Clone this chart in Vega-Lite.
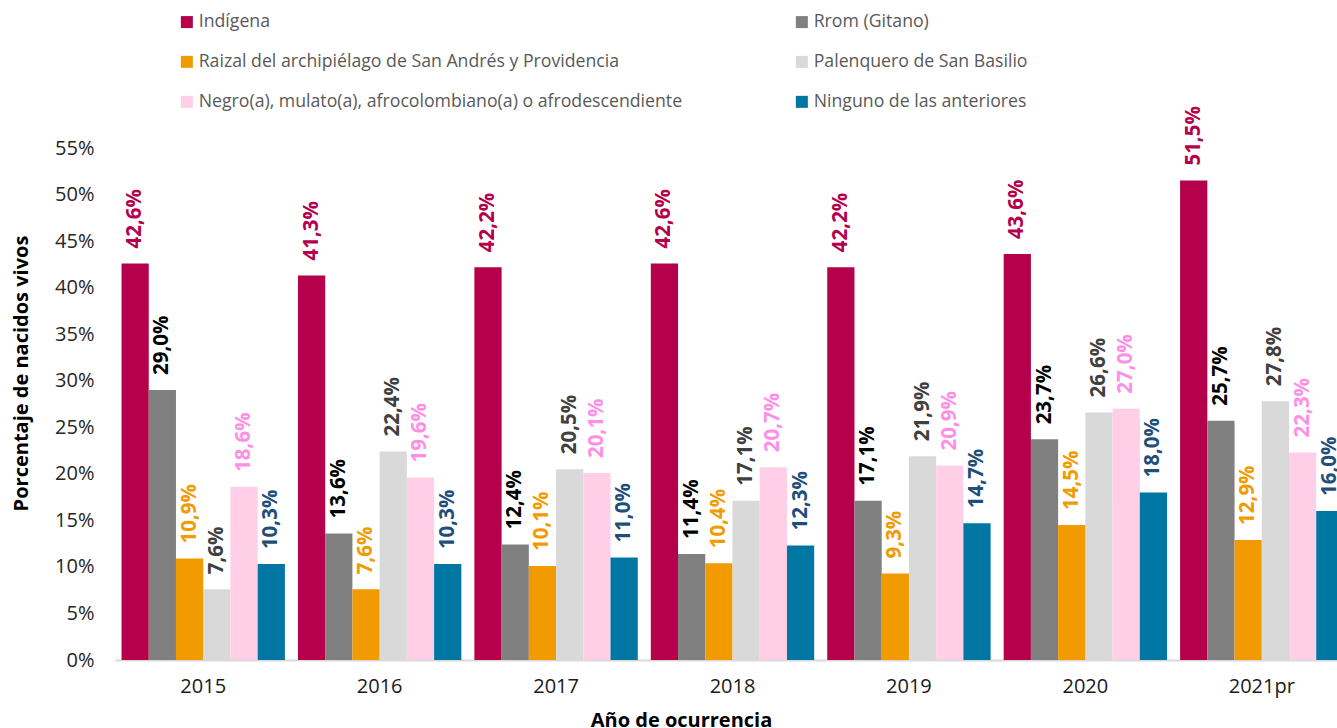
{
  "$schema": "https://vega.github.io/schema/vega-lite/v6.json",
  "autosize": {"type": "none"},
  "padding": {"left": 115, "top": 148, "right": 0, "bottom": 68},
  "width": 1222,
  "height": 512,
  "background": "white",
  "config": {
    "view": {"stroke": null},
    "font": "Open Sans",
    "locale": {"number": {"decimal": ",", "thousands": ".", "grouping": [3], "currency": ["$", ""]}}
  },
  "data": {
    "values": [
      {"anio": "2015", "grupo": "Indígena", "valor": 0.426},
      {"anio": "2015", "grupo": "Rrom (Gitano)", "valor": 0.290},
      {"anio": "2015", "grupo": "Raizal del archipiélago de San Andrés y Providencia", "valor": 0.109},
      {"anio": "2015", "grupo": "Palenquero de San Basilio", "valor": 0.076},
      {"anio": "2015", "grupo": "Negro(a), mulato(a), afrocolombiano(a) o afrodescendiente", "valor": 0.186},
      {"anio": "2015", "grupo": "Ninguno de las anteriores", "valor": 0.103},
      {"anio": "2016", "grupo": "Indígena", "valor": 0.413},
      {"anio": "2016", "grupo": "Rrom (Gitano)", "valor": 0.136},
      {"anio": "2016", "grupo": "Raizal del archipiélago de San Andrés y Providencia", "valor": 0.076},
      {"anio": "2016", "grupo": "Palenquero de San Basilio", "valor": 0.224},
      {"anio": "2016", "grupo": "Negro(a), mulato(a), afrocolombiano(a) o afrodescendiente", "valor": 0.196},
      {"anio": "2016", "grupo": "Ninguno de las anteriores", "valor": 0.103},
      {"anio": "2017", "grupo": "Indígena", "valor": 0.422},
      {"anio": "2017", "grupo": "Rrom (Gitano)", "valor": 0.124},
      {"anio": "2017", "grupo": "Raizal del archipiélago de San Andrés y Providencia", "valor": 0.101},
      {"anio": "2017", "grupo": "Palenquero de San Basilio", "valor": 0.205},
      {"anio": "2017", "grupo": "Negro(a), mulato(a), afrocolombiano(a) o afrodescendiente", "valor": 0.201},
      {"anio": "2017", "grupo": "Ninguno de las anteriores", "valor": 0.110},
      {"anio": "2018", "grupo": "Indígena", "valor": 0.426},
      {"anio": "2018", "grupo": "Rrom (Gitano)", "valor": 0.114},
      {"anio": "2018", "grupo": "Raizal del archipiélago de San Andrés y Providencia", "valor": 0.104},
      {"anio": "2018", "grupo": "Palenquero de San Basilio", "valor": 0.171},
      {"anio": "2018", "grupo": "Negro(a), mulato(a), afrocolombiano(a) o afrodescendiente", "valor": 0.207},
      {"anio": "2018", "grupo": "Ninguno de las anteriores", "valor": 0.123},
      {"anio": "2019", "grupo": "Indígena", "valor": 0.422},
      {"anio": "2019", "grupo": "Rrom (Gitano)", "valor": 0.171},
      {"anio": "2019", "grupo": "Raizal del archipiélago de San Andrés y Providencia", "valor": 0.093},
      {"anio": "2019", "grupo": "Palenquero de San Basilio", "valor": 0.219},
      {"anio": "2019", "grupo": "Negro(a), mulato(a), afrocolombiano(a) o afrodescendiente", "valor": 0.209},
      {"anio": "2019", "grupo": "Ninguno de las anteriores", "valor": 0.147},
      {"anio": "2020", "grupo": "Indígena", "valor": 0.436},
      {"anio": "2020", "grupo": "Rrom (Gitano)", "valor": 0.237},
      {"anio": "2020", "grupo": "Raizal del archipiélago de San Andrés y Providencia", "valor": 0.145},
      {"anio": "2020", "grupo": "Palenquero de San Basilio", "valor": 0.266},
      {"anio": "2020", "grupo": "Negro(a), mulato(a), afrocolombiano(a) o afrodescendiente", "valor": 0.270},
      {"anio": "2020", "grupo": "Ninguno de las anteriores", "valor": 0.180},
      {"anio": "2021pr", "grupo": "Indígena", "valor": 0.515},
      {"anio": "2021pr", "grupo": "Rrom (Gitano)", "valor": 0.257},
      {"anio": "2021pr", "grupo": "Raizal del archipiélago de San Andrés y Providencia", "valor": 0.129},
      {"anio": "2021pr", "grupo": "Palenquero de San Basilio", "valor": 0.278},
      {"anio": "2021pr", "grupo": "Negro(a), mulato(a), afrocolombiano(a) o afrodescendiente", "valor": 0.223},
      {"anio": "2021pr", "grupo": "Ninguno de las anteriores", "valor": 0.160}
    ]
  },
  "encoding": {
    "x": {
      "field": "anio", "type": "nominal", "sort": null,
      "scale": {"range": [0, 1235], "paddingInner": 0.074, "paddingOuter": 0.037},
      "axis": {
        "title": "Año de ocurrencia", "titleFontSize": 20, "titleFontWeight": "bold", "titleColor": "#000000",
        "titleX": 566, "titleY": 70, "titleBaseline": "bottom",
        "labelAngle": 0, "labelFontSize": 20, "labelColor": "#1a1a1a", "labelPadding": 16,
        "ticks": false, "domainColor": "#d9d9d9", "domainWidth": 2
      }
    },
    "xOffset": {
      "field": "grupo", "type": "nominal", "sort": null,
      "scale": {"paddingInner": 0, "paddingOuter": 0}
    },
    "y": {
      "field": "valor", "type": "quantitative",
      "scale": {"domain": [0, 0.55], "nice": false},
      "axis": {
        "title": "Porcentaje de nacidos vivos", "titleFontSize": 20, "titleFontWeight": "bold", "titleColor": "#000000",
        "titleX": -104, "titleY": 225, "titleBaseline": "top", "titleAlign": "center", "titleAngle": 270,
        "format": ".0%", "values": [0, 0.05, 0.1, 0.15, 0.2, 0.25, 0.3, 0.35, 0.4, 0.45, 0.5, 0.55],
        "labelFontSize": 20, "labelColor": "#262626", "labelPadding": 21,
        "ticks": false, "domain": false, "grid": false
      }
    }
  },
  "layer": [
    {
      "mark": {"type": "bar"},
      "encoding": {
        "color": {
          "field": "grupo", "type": "nominal", "sort": null,
          "scale": {
            "domain": ["Indígena", "Rrom (Gitano)", "Raizal del archipiélago de San Andrés y Providencia", "Palenquero de San Basilio", "Negro(a), mulato(a), afrocolombiano(a) o afrodescendiente", "Ninguno de las anteriores"],
            "range": ["#b5004b", "#808080", "#f29b00", "#d9d9d9", "#ffcfe8", "#0077a3"]
          },
          "legend": {
            "title": null, "orient": "none", "legendX": 63, "legendY": -135,
            "direction": "horizontal", "columns": 2, "columnPadding": 110, "rowPadding": 21,
            "symbolType": "square", "symbolSize": 144, "symbolStrokeWidth": 0,
            "labelFontSize": 17.7, "labelColor": "#595959", "labelLimit": 700, "labelOffset": 3
          }
        }
      }
    },
    {
      "mark": {"type": "text", "angle": 270, "align": "left", "baseline": "middle", "dx": 15, "fontSize": 20.5, "fontWeight": "bold"},
      "encoding": {
        "text": {"field": "valor", "type": "quantitative", "format": ".1%"},
        "color": {
          "field": "grupo", "type": "nominal", "sort": null,
          "scale": {
            "domain": ["Indígena", "Rrom (Gitano)", "Raizal del archipiélago de San Andrés y Providencia", "Palenquero de San Basilio", "Negro(a), mulato(a), afrocolombiano(a) o afrodescendiente", "Ninguno de las anteriores"],
            "range": ["#b5004b", "#000000", "#f29b00", "#404040", "#ff8fe6", "#1f4e79"]
          },
          "legend": null
        }
      }
    }
  ],
  "resolve": {"scale": {"color": "independent"}}
}
